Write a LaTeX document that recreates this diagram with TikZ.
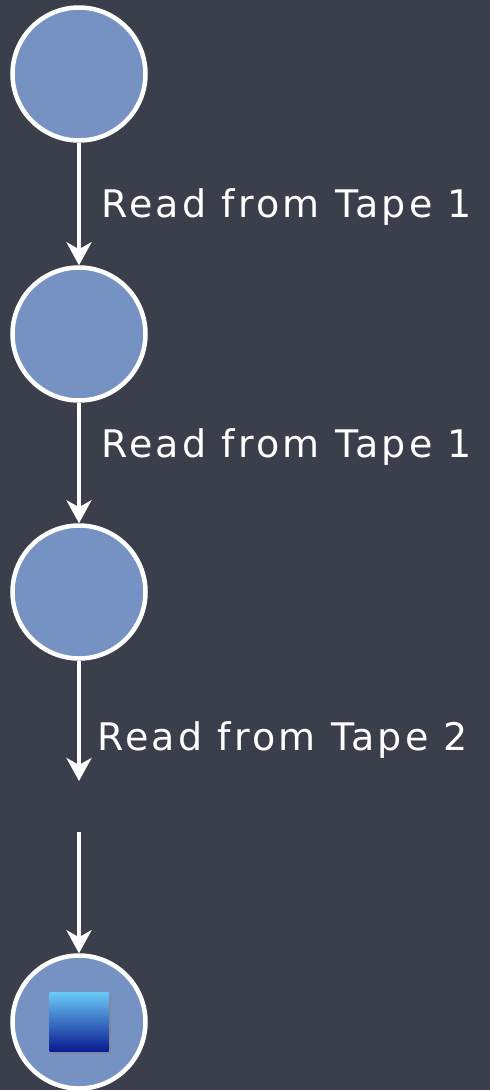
\documentclass[tikz,border=0pt]{standalone}
\usepackage{fontspec}
\setmainfont{DejaVu Sans}
\newfontfamily\chalkfont[LetterSpace=8.5]{DejaVu Sans}
\usepackage{xcolor}
\usetikzlibrary{arrows.meta,positioning,shadows}

\definecolor{board}{RGB}{58,63,75}
\definecolor{statefill}{RGB}{117,146,194}
\definecolor{haltlight}{RGB}{105,200,245}
\definecolor{haltdark}{RGB}{10,25,145}

\begin{document}
\begin{tikzpicture}[
  x=1pt, y=-1pt,
  state/.style={circle, draw=white, line width=4.5pt, fill=statefill, minimum size=133pt, inner sep=0pt},
  haltbox/.style={rectangle, minimum size=59pt, inner sep=0pt, top color=haltlight, bottom color=haltdark,
    drop shadow={opacity=0.45, shadow xshift=2pt, shadow yshift=-2pt}},
  lbl/.style={anchor=base west, inner sep=0pt, text=white, font=\chalkfont\fontsize{38}{44}\selectfont},
  arr/.style={-{Stealth[length=23pt, width=25pt, inset=7pt]}, line width=4.5pt, white}
]
% background board
\fill[board] (0,0) rectangle (490,1090);
\useasboundingbox (0,0) rectangle (490,1090);

% states
\node[state] (q1) at (79,74) {};
\node[state] (q2) at (79,334) {};
\node[state] (q3) at (79,592) {};
\node[state] (q4) at (79,1022) {};
\node[haltbox] (halt) at (q4) {};

% loose ends of the broken transition
\coordinate (cut1) at (79,781);
\coordinate (cut2) at (79,832);

\draw[arr] (q1) -- (q2);
\draw[arr] (q2) -- (q3);
\draw[arr] (q3) -- (cut1);
\draw[arr] (cut2) -- (q4);

% transition labels
\node[lbl] (t1) at (101,217) {Read from Tape 1};
\node[lbl] (t2) at (101,457) {Read from Tape 1};
\node[lbl] (t3) at (97,750) {Read from Tape 2};
\end{tikzpicture}
\end{document}
